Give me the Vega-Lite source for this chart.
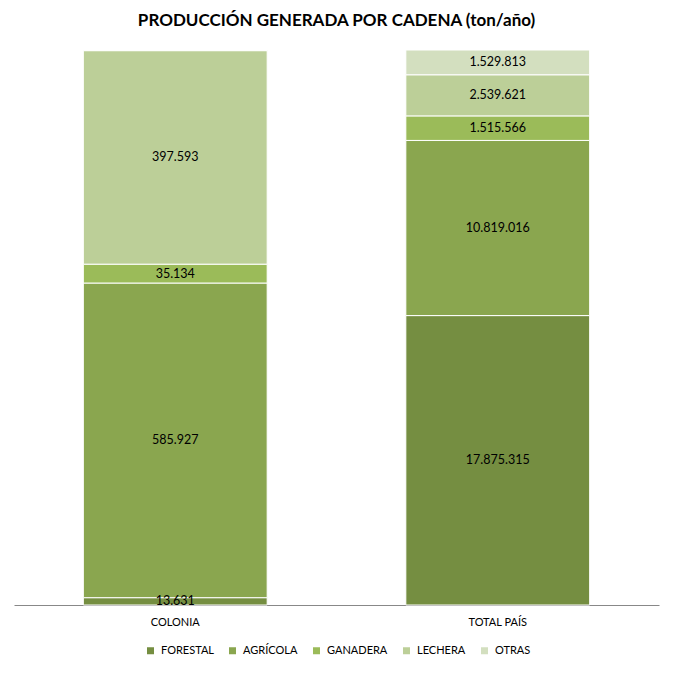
{
  "$schema": "https://vega.github.io/schema/vega-lite/v6.json",
  "width": 645,
  "height": 555,
  "autosize": "none",
  "padding": {"left": 14, "top": 50, "right": 23, "bottom": 76},
  "title": {
    "text": "PRODUCCIÓN GENERADA POR CADENA (ton/año)",
    "font": "Lato",
    "fontSize": 17,
    "fontWeight": "bold",
    "color": "#000000",
    "anchor": "middle",
    "offset": 20
  },
  "config": {
    "locale": {"number": {"decimal": ",", "thousands": ".", "grouping": [3], "currency": ["", ""]}},
    "view": {"stroke": null},
    "font": "Lato"
  },
  "data": {
    "values": [
      {"cadena": "COLONIA", "tipo": "FORESTAL", "orden": 1, "valor": 13631},
      {"cadena": "COLONIA", "tipo": "AGRÍCOLA", "orden": 2, "valor": 585927},
      {"cadena": "COLONIA", "tipo": "GANADERA", "orden": 3, "valor": 35134},
      {"cadena": "COLONIA", "tipo": "LECHERA", "orden": 4, "valor": 397593},
      {"cadena": "COLONIA", "tipo": "OTRAS", "orden": 5, "valor": 1200},
      {"cadena": "TOTAL PAÍS", "tipo": "FORESTAL", "orden": 1, "valor": 17875315},
      {"cadena": "TOTAL PAÍS", "tipo": "AGRÍCOLA", "orden": 2, "valor": 10819016},
      {"cadena": "TOTAL PAÍS", "tipo": "GANADERA", "orden": 3, "valor": 1515566},
      {"cadena": "TOTAL PAÍS", "tipo": "LECHERA", "orden": 4, "valor": 2539621},
      {"cadena": "TOTAL PAÍS", "tipo": "OTRAS", "orden": 5, "valor": 1529813}
    ]
  },
  "transform": [
    {"stack": "valor", "groupby": ["cadena"], "sort": [{"field": "orden", "order": "ascending"}], "offset": "normalize", "as": ["v0", "v1"]},
    {"calculate": "(datum.v0 + datum.v1) / 2", "as": "vm"}
  ],
  "encoding": {
    "x": {
      "field": "cadena",
      "type": "nominal",
      "sort": ["COLONIA", "TOTAL PAÍS"],
      "scale": {"paddingInner": 0.43, "paddingOuter": 0.215},
      "axis": {
        "title": null,
        "labelAngle": 0,
        "ticks": false,
        "domainColor": "#888888",
        "domainWidth": 1,
        "labelColor": "#000000",
        "labelFontSize": 11,
        "labelPadding": 11,
        "grid": false
      }
    }
  },
  "layer": [
    {
      "mark": {"type": "bar", "stroke": "#ffffff", "strokeWidth": 1},
      "encoding": {
        "y": {"field": "v0", "type": "quantitative", "scale": {"domain": [0, 1], "nice": false}, "axis": null},
        "y2": {"field": "v1"},
        "color": {
          "field": "tipo",
          "type": "nominal",
          "scale": {
            "domain": ["FORESTAL", "AGRÍCOLA", "GANADERA", "LECHERA", "OTRAS"],
            "range": ["#758E41", "#8AA64F", "#9BBB59", "#BCCF98", "#D3DFBF"]
          },
          "legend": {
            "title": null,
            "orient": "none",
            "direction": "horizontal",
            "legendX": 131,
            "legendY": 595,
            "symbolType": "square",
            "symbolSize": 49,
            "symbolStrokeWidth": 0,
            "labelFontSize": 11,
            "labelColor": "#000000",
            "labelOffset": 5,
            "columnPadding": 13
          }
        }
      }
    },
    {
      "transform": [{"filter": "datum.valor > 5000"}],
      "mark": {"type": "text", "fontSize": 12.5, "color": "#000000", "baseline": "middle", "align": "center"},
      "encoding": {
        "y": {"field": "vm", "type": "quantitative", "scale": {"domain": [0, 1], "nice": false}, "axis": null},
        "text": {"field": "valor", "type": "quantitative", "format": ",d"}
      }
    }
  ]
}
